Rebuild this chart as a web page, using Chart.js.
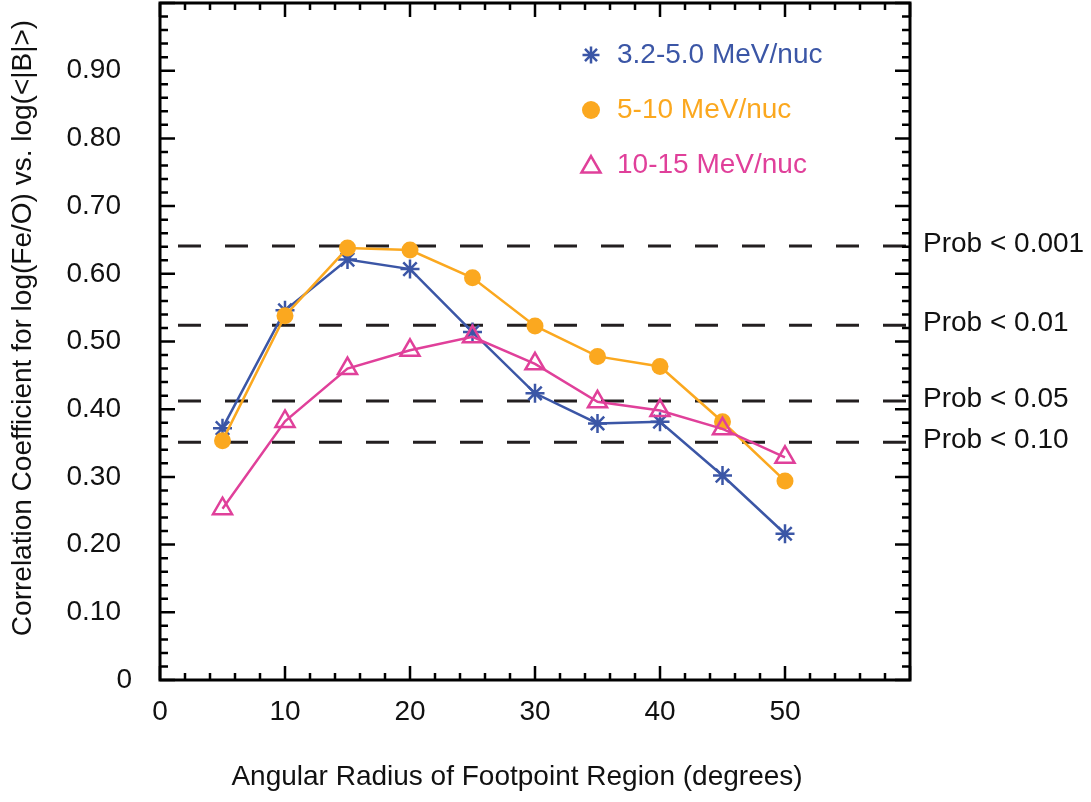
<!DOCTYPE html>
<html><head><meta charset="utf-8">
<script src="https://cdn.jsdelivr.net/npm/chart.js@4.4.0/dist/chart.umd.min.js"></script>
<style>html,body{margin:0;padding:0;background:#fff;}#wrap{width:1091px;height:802px;position:relative;}</style>
</head><body><div id="wrap"><canvas id="c" width="1091" height="802"></canvas></div>
<script>
const radii = [5, 10, 15, 20, 25, 30, 35, 40, 45, 50];
const seriesLow = [0.372, 0.546, 0.621, 0.607, 0.514, 0.4235, 0.379, 0.3815, 0.302, 0.216];
const seriesMid = [0.3535, 0.538, 0.638, 0.635, 0.594, 0.523, 0.478, 0.463, 0.3815, 0.294];
const seriesHigh = [0.253, 0.382, 0.46, 0.487, 0.507, 0.467, 0.411, 0.398, 0.371, 0.329];
const seriesNames = ['3.2-5.0 MeV/nuc', '5-10 MeV/nuc', '10-15 MeV/nuc'];
const probLevels = [0.641, 0.524, 0.412, 0.351];
const probLabels = ['Prob < 0.001', 'Prob < 0.01', 'Prob < 0.05', 'Prob < 0.10'];
const xTickLabels = ['0', '10', '20', '30', '40', '50'];
const yTickValues = [0, 0.1, 0.2, 0.3, 0.4, 0.5, 0.6, 0.7, 0.8, 0.9];
const yTickLabels = ['0', '0.10', '0.20', '0.30', '0.40', '0.50', '0.60', '0.70', '0.80', '0.90'];
const xTitle = 'Angular Radius of Footpoint Region (degrees)';
const yTitle = 'Correlation Coefficient for log(Fe/O) vs. log(<|B|>)';

const FONT = '"Liberation Sans", Arial, Helvetica, sans-serif';
const FS = 28;
const colors = ['#3B56A6', '#FBA81F', '#E0409A'];
const styles = ['star', 'circle', 'triangle'];
const radiiPt = [9.5, 8.5, 11];

const toPts = arr => arr.map((v, i) => ({x: radii[i], y: v}));

const datasets = [
  {label: seriesNames[0], data: toPts(seriesLow), borderColor: colors[0], backgroundColor: colors[0],
   pointStyle: styles[0], pointRadius: radiiPt[0], pointBorderWidth: 2.5, borderWidth: 2.5, order: 3},
  {label: seriesNames[1], data: toPts(seriesMid), borderColor: colors[1], backgroundColor: colors[1],
   pointStyle: styles[1], pointRadius: radiiPt[1], pointBorderWidth: 0, borderWidth: 2.5, order: 2},
  {label: seriesNames[2], data: toPts(seriesHigh), borderColor: colors[2], backgroundColor: 'rgba(0,0,0,0)',
   pointStyle: styles[2], pointRadius: radiiPt[2], pointBorderWidth: 2.5, borderWidth: 2.5, order: 1}
];
probLevels.forEach((lvl, i) => {
  datasets.push({label: probLabels[i], data: [{x: 0, y: lvl}, {x: 60, y: lvl}], borderColor: '#231f20',
    borderWidth: 3, borderDash: [23, 24], borderDashOffset: 29, pointRadius: 0, order: 10});
});

function drawMarker(ctx, style, r, x, y, color, bw) {
  ctx.save();
  ctx.strokeStyle = color; ctx.fillStyle = color; ctx.lineWidth = bw;
  ctx.beginPath();
  if (style === 'circle') {
    ctx.arc(x, y, r, 0, Math.PI * 2); ctx.fill();
  } else if (style === 'star') {
    for (let k = 0; k < 4; k++) {
      const a = k * Math.PI / 4;
      ctx.moveTo(x - Math.cos(a) * r, y - Math.sin(a) * r);
      ctx.lineTo(x + Math.cos(a) * r, y + Math.sin(a) * r);
    }
    ctx.stroke();
  } else {
    for (let k = 0; k < 3; k++) {
      const a = k * 2 * Math.PI / 3;
      const px = x + Math.sin(a) * r, py = y - Math.cos(a) * r;
      if (k === 0) ctx.moveTo(px, py); else ctx.lineTo(px, py);
    }
    ctx.closePath(); ctx.stroke();
  }
  ctx.restore();
}

const framePlugin = {
  id: 'frame',
  afterDraw(chart) {
    const ctx = chart.ctx;
    const {left, right, top, bottom} = chart.chartArea;
    const xs = chart.scales.x, ys = chart.scales.y;
    ctx.save();
    ctx.strokeStyle = '#000';
    ctx.lineWidth = 3;
    ctx.strokeRect(left, top, right - left, bottom - top);
    ctx.lineWidth = 2.5;
    ctx.beginPath();
    for (let v = 0; v <= 60; v += 2) {
      const px = xs.getPixelForValue(v);
      const len = v % 10 === 0 ? 14 : 7;
      ctx.moveTo(px, bottom); ctx.lineTo(px, bottom - len);
      ctx.moveTo(px, top); ctx.lineTo(px, top + len);
    }
    for (let k = 0; k <= 50; k++) {
      const py = ys.getPixelForValue(k * 0.02);
      const len = k % 5 === 0 ? 15 : 8;
      ctx.moveTo(left, py); ctx.lineTo(left + len, py);
      ctx.moveTo(right, py); ctx.lineTo(right - len, py);
    }
    ctx.stroke();

    ctx.fillStyle = '#111';
    ctx.font = FS + 'px ' + FONT;
    ctx.textBaseline = 'middle';
    ctx.textAlign = 'right';
    yTickValues.forEach((v, i) => {
      const py = ys.getPixelForValue(v);
      const x = yTickLabels[i] === '0' ? left - 28 : left - 39;
      ctx.fillText(yTickLabels[i], x, py);
    });

    ctx.textAlign = 'left';
    probLevels.forEach((lvl, i) => {
      ctx.fillText(probLabels[i], right + 13, ys.getPixelForValue(lvl) - 2);
    });

    ctx.textAlign = 'center';
    ctx.fillText(xTitle, 517, 777);
    ctx.save();
    ctx.translate(23, 328);
    ctx.rotate(-Math.PI / 2);
    ctx.fillText(yTitle, 0, 0);
    ctx.restore();

    ctx.textAlign = 'left';
    const rowY = [55, 110, 165];
    for (let i = 0; i < 3; i++) {
      drawMarker(ctx, styles[i], i === 2 ? 11 : (i === 0 ? 8.5 : 9), 591, rowY[i] + (i === 2 ? 2 : 0), colors[i], 2.5);
      ctx.fillStyle = colors[i];
      ctx.fillText(seriesNames[i], 617, rowY[i]);
    }
    ctx.restore();
  }
};

new Chart(document.getElementById('c'), {
  type: 'line',
  data: {datasets},
  options: {
    responsive: false,
    animation: false,
    devicePixelRatio: 1,
    layout: {autoPadding: false, padding: {left: 0, right: 181, top: 3, bottom: 0}},
    plugins: {legend: {display: false}, tooltip: {enabled: false}},
    scales: {
      x: {
        type: 'linear', min: 0, max: 60,
        grid: {display: false, drawTicks: false}, border: {display: false},
        ticks: {stepSize: 10, padding: 15, color: '#111', font: {family: FONT, size: FS},
          callback: v => (xTickLabels[v / 10] !== undefined ? xTickLabels[v / 10] : '')},
        afterFit: s => { s.height = 122; }
      },
      y: {
        type: 'linear', min: 0, max: 1,
        grid: {display: false, drawTicks: false}, border: {display: false},
        ticks: {display: false, stepSize: 0.1},
        afterFit: s => { s.width = 160; }
      }
    }
  },
  plugins: [framePlugin]
});
</script></body></html>
